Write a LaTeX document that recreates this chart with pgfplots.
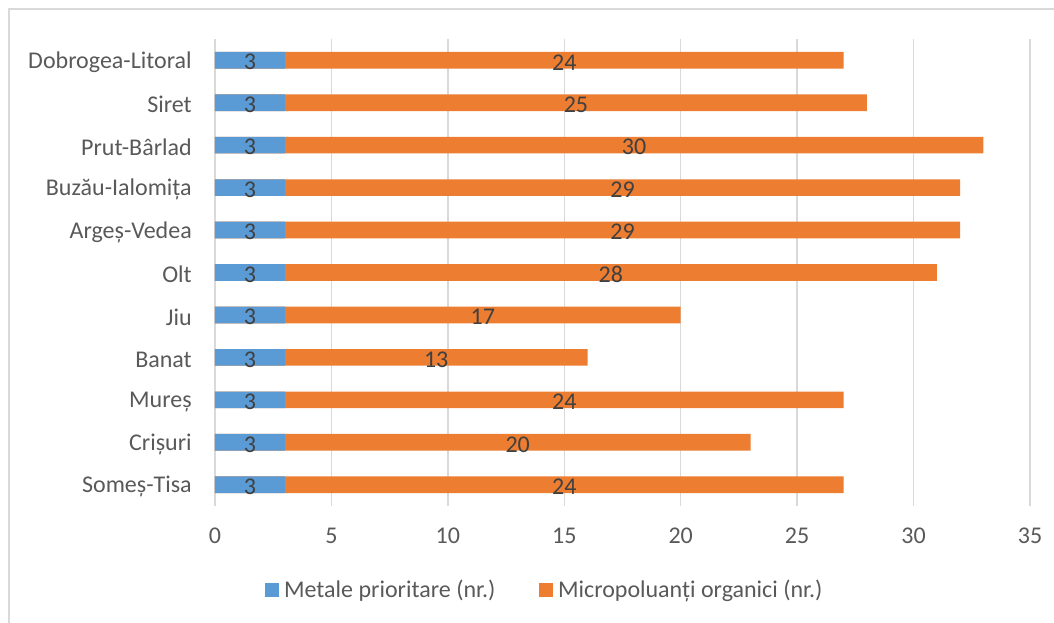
\documentclass[border=0pt]{standalone}
\usepackage{fontspec}
\setmainfont{Carlito}
\usepackage{pgfplots}
\pgfplotsset{compat=1.18}
\definecolor{cblue}{HTML}{5B9BD5}
\definecolor{corange}{HTML}{ED7D31}
\definecolor{cgrid}{HTML}{D9D9D9}
\definecolor{ctext}{HTML}{595959}
\definecolor{cval}{HTML}{404040}
\begin{document}
\begin{tikzpicture}
\useasboundingbox (0,0) rectangle (790.5pt,466.5pt);
\draw[cgrid, line width=1pt] (6.75pt,-2pt) -- (6.75pt,459.75pt) -- (795pt,459.75pt);
\begin{axis}[
  at={(161.25pt,87pt)}, anchor=south west,
  scale only axis, width=611.25pt, height=350.25pt,
  xmin=0, xmax=35, ymin=-0.5, ymax=10.5,
  xtick={0,5,...,35}, ytick={0,...,10},
  yticklabels={Someș-Tisa,Crișuri,Mureș,Banat,Jiu,Olt,Argeș-Vedea,Buzău-Ialomița,Prut-Bârlad,Siret,Dobrogea-Litoral},
  major tick length=0pt,
  xmajorgrids, major grid style={cgrid, line width=1pt},
  axis x line*=bottom, axis y line*=left,
  x axis line style={draw=none},
  y axis line style={draw=cgrid, line width=1pt, -},
  tick label style={font=\fontsize{18}{21}\selectfont, text=ctext},
  /pgf/number format/assume math mode=true,
  yticklabel style={anchor=east, inner sep=0pt, xshift=-17.25pt, yshift=-1.5pt},
  xticklabel style={anchor=base, inner sep=0pt, yshift=-28.2pt},
  bar shift=0pt, bar width=12.5pt,
  legend columns=2,
  legend style={at={(0.4037,-0.18)}, anchor=center, draw=none, fill=none,
    font=\fontsize{18}{21}\selectfont, text=ctext,
    /tikz/every even column/.append style={column sep=33pt},
    nodes={inner sep=0pt}},
  legend image code/.code={\fill[#1, draw=none] (0pt,-5.25pt) rectangle (10.5pt,5.25pt);},
  legend cell align=left,
]
\addlegendimage{fill=cblue, draw=none}
\addlegendentry{\hspace{3.5pt}Metale prioritare (nr.)}
\addlegendimage{fill=corange, draw=none}
\addlegendentry{\hspace{3.5pt}Micropoluanți organici (nr.)}
% totals (orange bars drawn from 0, blue on top)
\addplot[xbar, fill=corange, draw=none, forget plot] coordinates {
(27,0) (23,1) (27,2) (16,3) (20,4) (31,5) (32,6) (32,7) (33,8) (28,9) (27,10)};
\addplot[xbar, fill=cblue, draw=none, forget plot] coordinates {
(3,0) (3,1) (3,2) (3,3) (3,4) (3,5) (3,6) (3,7) (3,8) (3,9) (3,10)};
% value labels at segment centres
\addplot[draw=none, mark=none, forget plot, point meta=explicit symbolic,
  nodes near coords,
  every node near coord/.append style={anchor=center, inner sep=0pt, yshift=-1.5pt,
    font=\fontsize{18}{21}\selectfont, text=cval}] coordinates {
(1.5,0)[3] (1.5,1)[3] (1.5,2)[3] (1.5,3)[3] (1.5,4)[3] (1.5,5)[3] (1.5,6)[3] (1.5,7)[3] (1.5,8)[3] (1.5,9)[3] (1.5,10)[3]};
\addplot[draw=none, mark=none, forget plot, point meta=explicit symbolic,
  nodes near coords,
  every node near coord/.append style={anchor=center, inner sep=0pt, yshift=-1.5pt,
    font=\fontsize{18}{21}\selectfont, text=cval}] coordinates {
(15,0)[24] (13,1)[20] (15,2)[24] (9.5,3)[13] (11.5,4)[17] (17,5)[28] (17.5,6)[29] (17.5,7)[29] (18,8)[30] (15.5,9)[25] (15,10)[24]};
\end{axis}
\end{tikzpicture}
\end{document}
